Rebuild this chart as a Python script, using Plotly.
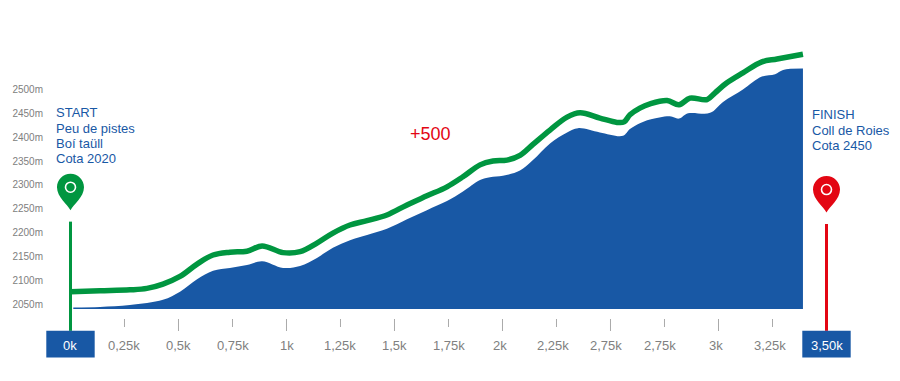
import plotly.graph_objects as go

BLUE = "#1858a5"; GREEN = "#009640"; RED = "#e30613"; GREY = "#808080"; FONT = "Liberation Sans"

line_km = [0,0.137,0.275,0.354,0.428,0.507,0.586,0.660,0.738,0.817,0.887,0.984,1.063,1.141,1.215,1.294,1.373,1.465,1.558,1.650,1.743,1.817,1.896,1.956,2.021,2.081,2.141,2.220,2.299,2.359,2.451,2.530,2.563,2.590,2.636,2.683,2.762,2.817,2.868,2.947,2.984,3.039,3.113,3.201,3.271,3.391]
line_m = [2076,2078,2080,2083,2092,2108,2134,2153,2159,2161,2172,2158,2160,2178,2199,2216,2225,2237,2258,2277,2296,2317,2342,2350,2352,2362,2385,2415,2442,2451,2440,2431,2432,2447,2461,2470,2477,2468,2482,2479,2493,2514,2535,2558,2564,2574]
area_km = [0.013,0.137,0.275,0.428,0.507,0.586,0.660,0.738,0.817,0.887,0.984,1.063,1.141,1.215,1.294,1.373,1.465,1.558,1.650,1.743,1.817,1.896,1.942,2.002,2.081,2.141,2.220,2.299,2.350,2.451,2.558,2.590,2.636,2.683,2.775,2.817,2.859,2.961,3.021,3.113,3.201,3.262,3.299,3.391]
area_m = [2043,2044,2048,2059,2076,2102,2120,2126,2132,2140,2126,2130,2147,2168,2184,2195,2208,2228,2247,2266,2286,2310,2316,2319,2330,2352,2387,2410,2419,2410,2403,2417,2429,2437,2444,2439,2450,2451,2474,2500,2527,2532,2541,2544]
BASE_M = 2040

y_ticks = [2050,2100,2150,2200,2250,2300,2350,2400,2450,2500]
tick_km = [0.25,0.5,0.75,1,1.25,1.5,1.75,2,2.25,2.5,2.75,3,3.25]
x_labels = ["0,25k","0,5k","0,75k","1k","1,25k","1,5k","1,75k","2k","2,25k","2,75k","2,75k","3k","3,25k"]
label_km = [0.248,0.498,0.752,1.002,1.248,1.498,1.752,1.988,2.234,2.479,2.729,2.988,3.238]
start_text = ["START","Peu de pistes","Boí taüll","Cota 2020"]
finish_text = ["FINISH","Coll de Roies","Cota 2450"]

fig = go.Figure()
fig.add_trace(go.Scatter(x=[area_km[0],area_km[-1]], y=[BASE_M,BASE_M], mode="lines", line=dict(width=0), hoverinfo="skip"))
fig.add_trace(go.Scatter(x=area_km, y=area_m, mode="lines", line=dict(width=0, color=BLUE, shape="spline", smoothing=1.0), fill="tonexty", fillcolor=BLUE))
fig.add_trace(go.Scatter(x=line_km, y=line_m, mode="lines", line=dict(width=5.5, color=GREEN, shape="spline", smoothing=1.0)))

shapes = []
for i, k in enumerate(tick_km):
    shapes.append(dict(type="line", x0=k, x1=k, y0=2500-(319-89.5)*2.0964, y1=2500-((331 if i % 2 else 327)-89.5)*2.0964, line=dict(color="#aaaaaa", width=1)))

def marker(km, color, top_m):
    tip = {GREEN: 2247, RED: 2242}[color]
    shapes.append(dict(type="line", x0=km, x1=km, y0=top_m, y1=1994, line=dict(color=color, width=3)))
    shapes.append(dict(type="rect", x0=km-0.112, x1=km+0.112, y0=1994, y1=1938, fillcolor=BLUE, line=dict(width=0)))
    shapes.append(dict(type="path", xsizemode="pixel", ysizemode="pixel", xanchor=km, yanchor=tip, fillcolor=color, line=dict(width=0),
        path="M0,0 C-3,6 -13.5,13 -13.5,23 C-13.5,30.5 -7.5,36.5 0,36.5 C7.5,36.5 13.5,30.5 13.5,23 C13.5,13 3,6 0,0 Z"))
    shapes.append(dict(type="circle", xsizemode="pixel", ysizemode="pixel", xanchor=km, yanchor=tip, x0=-5, x1=5, y0=18, y1=28, line=dict(color="white", width=1.6), fillcolor=color))

marker(0, GREEN, 2223)
marker(3.5, RED, 2218)

ann = []
def text_px(t, px, py, size, color, anchor="left", shift=-2):
    ann.append(dict(text=t, xref="paper", yref="paper", x=(px-46)/854, y=1-py/381, xanchor=anchor, yanchor="middle", showarrow=False, xshift=shift,
                    font=dict(family=FONT, size=size, color=color)))
for t, py in zip(start_text, [112,128,143.5,159]):
    text_px(t, 56, py, 13, BLUE)
for t, py in zip(finish_text, [114,130,145.5]):
    text_px(t, 812, py, 13, BLUE)
text_px("+500", 430, 134, 18, RED, "center", 0)
for t, k in zip(x_labels, label_km):
    ann.append(dict(text=t, xref="x", yref="paper", x=k, y=1-345/381, xanchor="center", yanchor="middle", showarrow=False,
                    font=dict(family=FONT, size=13, color=GREY)))
for t, k in [("0k",0),("3,50k",3.5)]:
    ann.append(dict(text=t, xref="x", yref="paper", x=k, y=1-345/381, xanchor="center", yanchor="middle", showarrow=False,
                    font=dict(family=FONT, size=13, color="white")))

fig.update_layout(
    width=900, height=381, margin=dict(l=46, r=0, t=0, b=0), showlegend=False,
    paper_bgcolor="white", plot_bgcolor="white", shapes=shapes, annotations=ann,
    xaxis=dict(range=[-0.1134, 3.8403], visible=False),
    yaxis=dict(range=[1888.9, 2687.6], tickmode="array", tickvals=y_ticks, ticktext=[f"{v}m" for v in y_ticks],
               showgrid=False, zeroline=False, showline=False, ticks="", ticklen=0, ticklabelstandoff=2,
               tickfont=dict(family=FONT, size=10, color=GREY)),
)
fig.write_html("out.html", config={"displayModeBar": False},
               post_script="document.body.style.margin='0';document.body.style.overflow='hidden';")
